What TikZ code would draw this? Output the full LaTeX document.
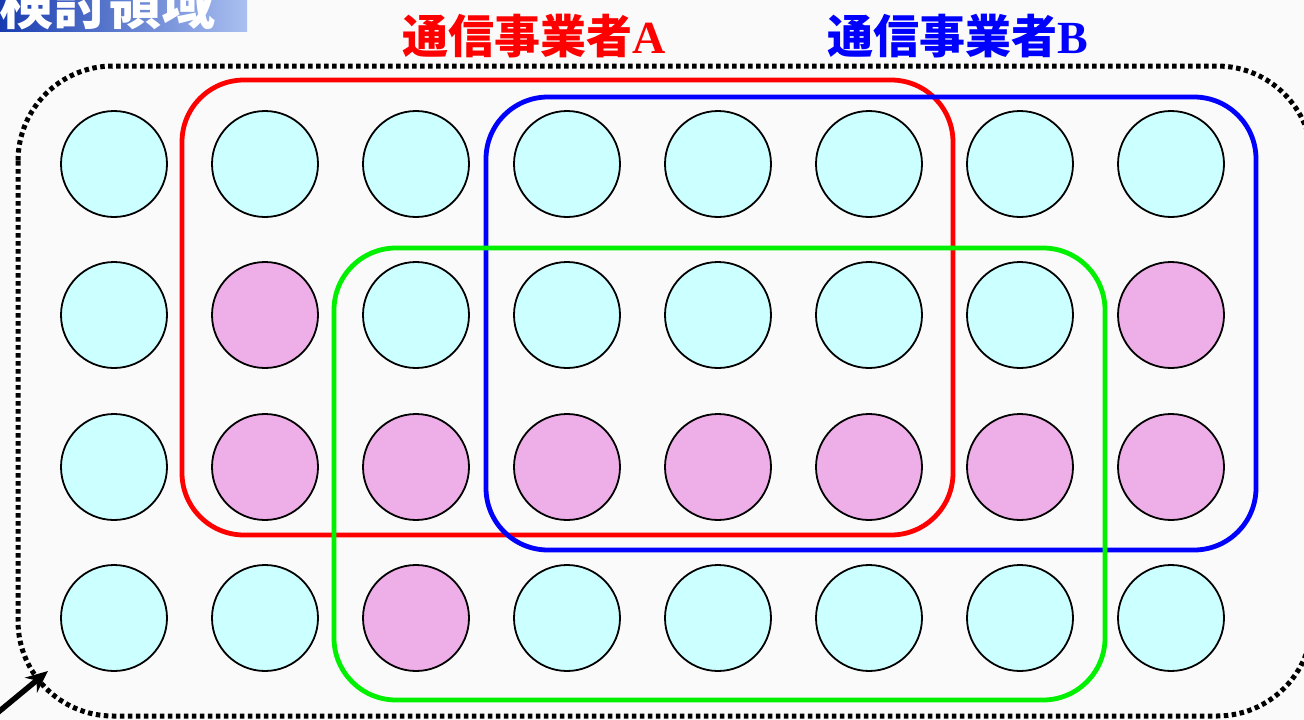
\documentclass[tikz,border=0pt]{standalone}
\usepackage{fontspec}
\newfontfamily\cjk{Noto Sans CJK JP}
\newfontfamily\latin{Liberation Serif}
\usetikzlibrary{arrows.meta}
\definecolor{sitecyan}{RGB}{204,255,255}
\definecolor{sitepink}{RGB}{238,174,232}
\definecolor{titledark}{RGB}{24,60,176}
\definecolor{titlelight}{RGB}{170,192,240}
\definecolor{paper}{RGB}{250,250,250}
\definecolor{opgreen}{RGB}{0,240,0}

\begin{document}
\begin{tikzpicture}[x=1pt,y=-1pt]
  \tikzstyle{site}=[circle,draw=black,line width=1.8pt,minimum size=106pt,inner sep=0pt,fill=sitecyan]
  \tikzstyle{hit}=[site,fill=sitepink]
  \tikzstyle{group}=[rounded corners=62pt,line width=4.8pt]
  \tikzstyle{label}=[font=\cjk\bfseries\fontsize{46}{46}\selectfont,inner sep=0pt]

  \useasboundingbox (0,0) rectangle (1304,720);
  \fill[paper] (0,0) rectangle (1304,720);

  % title tab, cut off at the top
  \shade[left color=titledark,right color=titlelight] (0,-30) rectangle (247,31);
  \node[font=\cjk\bfseries\fontsize{54}{54}\selectfont,text=white,inner sep=0pt] (title) at (107,4) {検討領域};

  % operator names
  \node[label,text=red]  (opA) at (534,36) {通信事業者{\latin\bfseries A}};
  \node[label,text=blue] (opB) at (958,36) {通信事業者{\latin\bfseries B}};

  % study area
  \draw[line width=5pt,dash pattern=on 4.5pt off 3.5pt,rounded corners=95pt] (18,66) rectangle (1312,716);
  \coordinate (edge) at (48,671);
  \coordinate (from) at (-4,714);
  \draw[-{Stealth[length=22pt,width=19pt]},line width=5.5pt] (from) -- (edge);

  % sites
  \foreach \r/\y/\kinds in {1/164/{site,site,site,site,site,site,site,site},
                            2/315/{site,hit,site,site,site,site,site,hit},
                            3/467/{site,hit,hit,hit,hit,hit,hit,hit},
                            4/618/{site,site,hit,site,site,site,site,site}}
    \foreach \k [count=\c] in \kinds
      \node[\k] (s\r\c) at ({114+151*(\c-1)},\y) {};

  % operator coverage
  \draw[group,red]      (182,80)  rectangle (953,535);
  \draw[group,blue]     (486,97)  rectangle (1256,550);
  \draw[group,opgreen]  (334,248) rectangle (1105,700);
\end{tikzpicture}
\end{document}
